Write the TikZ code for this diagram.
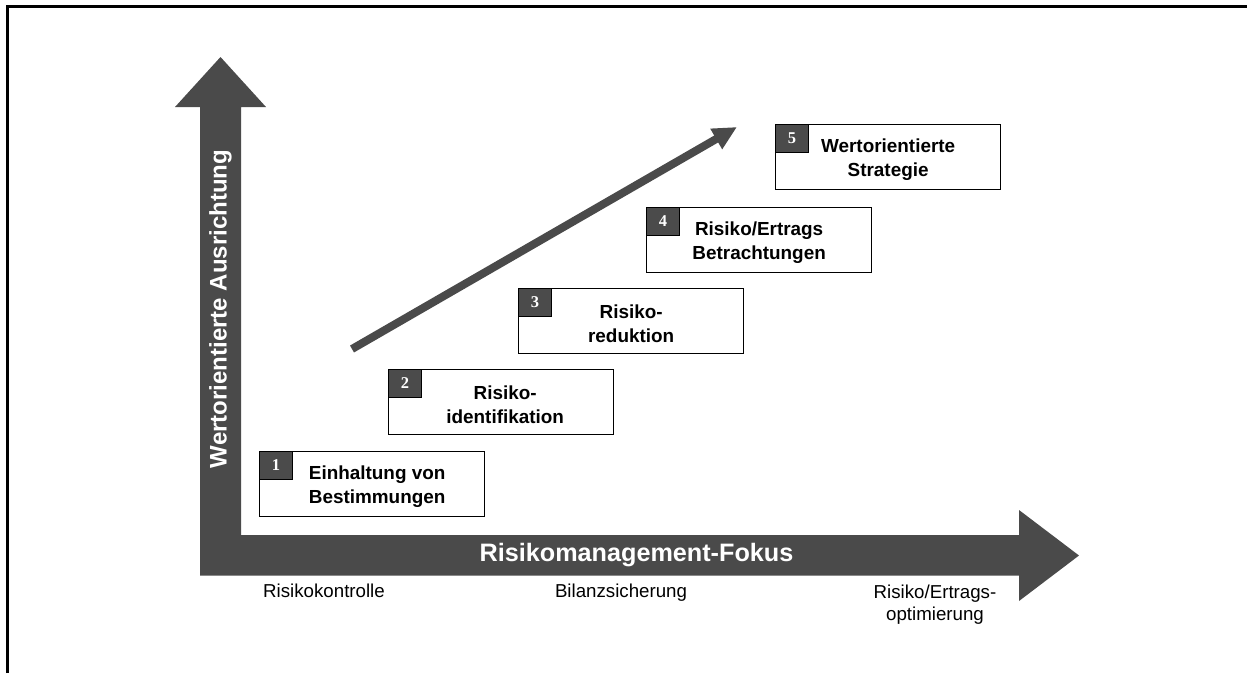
\documentclass[tikz,border=0pt]{standalone}
\usepackage{fontspec}
\setmainfont{Liberation Sans}
\newfontfamily\numfont{Liberation Serif}
\usetikzlibrary{arrows.meta}
\definecolor{axisgray}{HTML}{4A4A4A}
\definecolor{numgray}{HTML}{4B4B4B}
\begin{document}
\begin{tikzpicture}[x=1pt,y=-1pt,
  stagebox/.style={draw=black, line width=1.3pt, fill=white, minimum width=225pt,
    minimum height=65pt, inner sep=0pt, anchor=north west},
  numbox/.style={draw=black, line width=0.8pt, fill=numgray, minimum width=33pt,
    minimum height=28pt, inner sep=0pt, anchor=north west, text=white,
    font=\numfont\bfseries\fontsize{16.5}{16.5}\selectfont},
  stagetext/.style={font=\bfseries\fontsize{18.9}{23.5}\selectfont, align=center,
    inner sep=0pt, yshift=-2.5pt},
  axistext/.style={font=\bfseries\fontsize{24}{24}\selectfont, text=white, inner sep=0pt},
  ticklabel/.style={font=\fontsize{18.7}{22}\selectfont, align=center, inner sep=0pt}
]
\useasboundingbox (0,0) rectangle (1247,673);

% outer frame: top and left edges only
\draw[line width=3pt] (7.5,673) -- (7.5,6.5) -- (1247,6.5);

% the two axes as one L-shaped block arrow
\fill[axisgray] (200,575.5) -- (200,107) -- (175,107) -- (220.5,57) -- (266,107)
  -- (241,107) -- (241,535) -- (1019,535) -- (1019,510) -- (1079,555.5)
  -- (1019,601) -- (1019,575.5) -- cycle;

\node[axistext, rotate=90] (ylab) at (220.5,309) {Wertorientierte Ausrichtung};
\node[axistext, font=\bfseries\fontsize{25.2}{25}\selectfont] (xlab) at (636.5,555.5) {Risikomanagement-Fokus};

% labels along the horizontal axis
\node[ticklabel, anchor=base] (lab1) at (324,597) {Risikokontrolle};
\node[ticklabel, anchor=base] (lab2) at (621,597) {Bilanzsicherung};
\node[ticklabel, anchor=base] (lab3) at (935,620) {Risiko/Ertrags-\\optimierung};

% trend arrow
\coordinate (trendstart) at (352,349);
\coordinate (trendend) at (737,127);
\draw[axisgray, line width=8pt, -{Triangle[length=24pt,width=22pt]}] (trendstart) -- (trendend);

% stages
\node[stagebox] (s1) at (259,451) {};
\node[stagebox] (s2) at (388,369) {};
\node[stagebox] (s3) at (518,288) {};
\node[stagebox] (s4) at (646,207) {};
\node[stagebox] (s5) at (775,124) {};

\node[numbox] (n1) at (s1.north west) {1};
\node[numbox] (n2) at (s2.north west) {2};
\node[numbox] (n3) at (s3.north west) {3};
\node[numbox] (n4) at (s4.north west) {4};
\node[numbox] (n5) at (s5.north west) {5};

\node[stagetext] (t1) at ([xshift=5pt]s1.center) {Einhaltung von\\Bestimmungen};
\node[stagetext] (t2) at ([xshift=4pt]s2.center) {Risiko-\\identifikation};
\node[stagetext] (t3) at (s3.center) {Risiko-\\reduktion};
\node[stagetext] (t4) at (s4.center) {Risiko/Ertrags\\Betrachtungen};
\node[stagetext] (t5) at (s5.center) {Wertorientierte\\Strategie};
\end{tikzpicture}
\end{document}
